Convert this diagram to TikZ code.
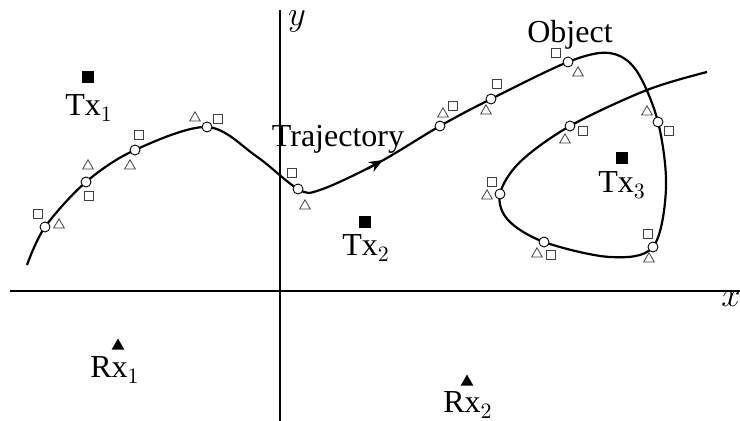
\documentclass[tikz,border=0pt]{standalone}
\usepackage{fontspec}
\setmainfont{Liberation Serif}
\usetikzlibrary{arrows.meta,shapes.geometric}
\begin{document}
\begin{tikzpicture}[x=0.5pt,y=-0.5pt,
  every node/.style={font=\fontsize{16}{19}\selectfont},
  axis/.style={line width=0.75pt},
  traj/.style={line width=1.1pt},
  samp/.style={circle,draw,fill=white,line width=0.45pt,inner sep=0pt,minimum size=5pt},
  sq/.style={rectangle,draw=black!75,line width=0.4pt,inner sep=0pt,minimum size=4.6pt},
  tri/.style={regular polygon,regular polygon sides=3,draw=black!75,line width=0.4pt,inner sep=0pt,minimum size=6.2pt},
  txm/.style={rectangle,fill=black,inner sep=0pt,minimum size=6pt},
  rxm/.style={regular polygon,regular polygon sides=3,fill=black,inner sep=0pt,minimum size=7.4pt},
  lab/.style={anchor=base,inner sep=0pt}]
\useasboundingbox (0,0) rectangle (740,421);
% axes
\coordinate (xl) at (10,291);
\coordinate (xr) at (740,291);
\coordinate (yt) at (280,10);
\coordinate (yb) at (280,421);
\draw[axis] (xl) -- (xr);
\draw[axis] (yb) -- (yt);
\node (xlab) at (731,299) {$x$};
\node (ylab) at (297,21) {$y$};
% trajectory points
\coordinate (s0) at (27,265);
\coordinate (c1) at (45,227);
\coordinate (c2) at (86,182);
\coordinate (c3) at (135,150);
\coordinate (c4) at (207,127);
\coordinate (p1) at (256,156);
\coordinate (c5) at (298,189);
\coordinate (p2) at (320,190);
\coordinate (ar) at (378,163);
\coordinate (c6) at (440,126);
\coordinate (c7) at (491,99);
\coordinate (c8) at (568,62);
\coordinate (tp) at (609,53);
\coordinate (p3) at (636,70);
\coordinate (c9) at (658,122);
\coordinate (p4) at (666,188);
\coordinate (c10) at (653,247);
\coordinate (p5) at (610,257);
\coordinate (c11) at (544,242);
\coordinate (p8) at (508,220);
\coordinate (c12) at (500,194);
\coordinate (p6) at (520,162);
\coordinate (c13) at (570,126);
\coordinate (p7) at (647,90);
\coordinate (e0) at (707,72);
\draw[traj] plot[smooth,tension=0.55] coordinates {(s0) (c1) (c2) (c3) (c4) (p1) (c5) (p2) (ar) (c6) (c7) (c8) (tp) (p3) (c9) (p4) (c10) (p5) (c11) (p8) (c12) (p6) (c13) (p7) (e0)};
\coordinate (aa) at (368,168.5);
\coordinate (ab) at (383,160);
\draw[traj,-{Stealth[length=7pt,width=5.5pt]}] (aa) -- (ab);
% sample markers
\foreach \c in {c1,c2,c3,c4,c5,c6,c7,c8,c9,c10,c11,c12,c13} \node[samp] (m\c) at (\c) {};
% squares
\node[sq] (s1) at (38,214) {};
\node[sq] (s2) at (89,196) {};
\node[sq] (s3) at (139,135) {};
\node[sq] (s4) at (218,119) {};
\node[sq] (s5) at (292,173) {};
\node[sq] (s6) at (453,106) {};
\node[sq] (s7) at (497,84) {};
\node[sq] (s8) at (556,53) {};
\node[sq] (s9) at (669,131) {};
\node[sq] (s10) at (648,234) {};
\node[sq] (s11) at (551,255) {};
\node[sq] (s12) at (492,182) {};
\node[sq] (s13) at (583,131) {};
% triangles
\node[tri] (t1) at (59,225) {};
\node[tri] (t2) at (88,166) {};
\node[tri] (t3) at (130,166) {};
\node[tri] (t4) at (195,118) {};
\node[tri] (t5) at (305,206) {};
\node[tri] (t6) at (443,114) {};
\node[tri] (t7) at (486,111) {};
\node[tri] (t8) at (578,73) {};
\node[tri] (t9) at (647,112) {};
\node[tri] (t10) at (649,259) {};
\node[tri] (t11) at (537,254) {};
\node[tri] (t12) at (487,196) {};
\node[tri] (t13) at (565,140) {};
% transmitters / receivers
\node[txm] (tx1) at (88,77) {};
\node[lab] (tx1l) at (89,116) {Tx$_1$};
\node[txm] (tx2) at (365,222) {};
\node[lab] (tx2l) at (366,256) {Tx$_2$};
\node[txm] (tx3) at (622,158) {};
\node[lab] (tx3l) at (622,193) {Tx$_3$};
\node[rxm] (rx1) at (118,346) {};
\node[lab] (rx1l) at (115,378) {Rx$_1$};
\node[rxm] (rx2) at (467,382) {};
\node[lab] (rx2l) at (468,413) {Rx$_2$};
% labels
\node[lab] (trl) at (338,147) {Trajectory};
\node[lab] (obl) at (570,43) {Object};
\end{tikzpicture}
\end{document}
